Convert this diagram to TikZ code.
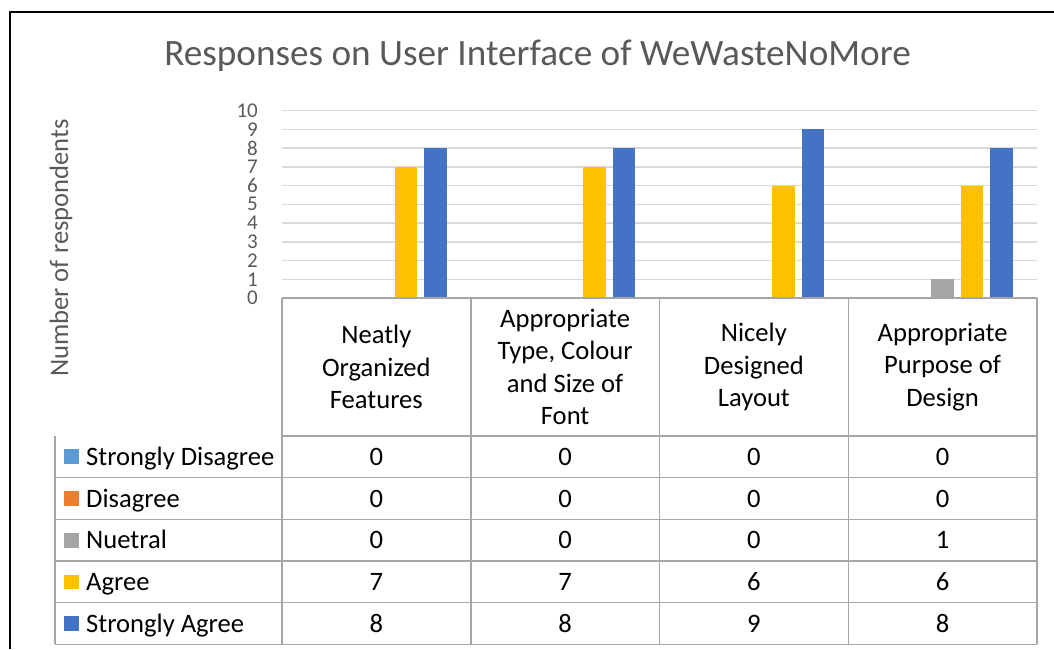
\documentclass[tikz,border=0pt]{standalone}
\usepackage{fontspec}
\setmainfont{Carlito}
\definecolor{txtgray}{HTML}{595959}
\definecolor{gridgray}{HTML}{D9D9D9}
\definecolor{tabgray}{HTML}{A6A6A6}
\definecolor{sdblue}{HTML}{5B9BD5}
\definecolor{dorange}{HTML}{ED7D31}
\definecolor{ngray}{HTML}{A5A5A5}
\definecolor{ayellow}{HTML}{FFC000}
\definecolor{sablue}{HTML}{4472C4}
\tikzset{
  ticklabel/.style={anchor=east, inner sep=0pt, text=txtgray, font=\fontsize{21}{21}\selectfont},
  tabtext/.style={inner sep=0pt, font=\fontsize{26.6}{32.5}\selectfont},
  hdrtext/.style={inner sep=0pt, align=center, font=\fontsize{26.6}{32.5}\selectfont},
  tabline/.style={tabgray, line width=1.5pt}
}
\begin{document}
\begin{tikzpicture}[x=1pt,y=-1pt]
\useasboundingbox (0,0) rectangle (1054,649);
% frame
\draw[line width=2pt] (10,649) -- (10,12) -- (1054,12);

% title and axis title
\node[anchor=base, inner sep=0pt, text=txtgray, font=\fontsize{37.2}{40}\selectfont] (title) at (537.5,65.7) {Responses on User Interface of WeWasteNoMore};
\node[rotate=90, inner sep=0pt, text=txtgray, font=\fontsize{26.6}{26.6}\selectfont] (ytitle) at (61,248) {Number of respondents};

% grid and tick labels
\foreach \v in {1,...,10}
  \draw[gridgray, line width=1.5pt] (282,298-18.75*\v) -- (1037,298-18.75*\v);
\foreach \v in {0,...,10}
  \node[ticklabel] (tick\v) at (258,298-18.75*\v) {\v};

% bars (agree, strongly agree)
\foreach \a/\s [count=\c] in {7/8, 7/8, 6/9, 6/8} {
  \fill[ayellow] (282+188.75*\c-94.375+18.2,298) rectangle ++(22.6,-18.75*\a);
  \fill[sablue] (282+188.75*\c-94.375+47.7,298) rectangle ++(22.6,-18.75*\s);
}
% neutral bar
\fill[ngray] (942.6-11.3,298) rectangle ++(22.6,-18.75);

% data table
\foreach \y in {298,436}
  \draw[tabline] (282,\y) -- (1037,\y);
\foreach \r in {1,...,5}
  \draw[tabline] (55,436+41.68*\r) -- (1037,436+41.68*\r);
\foreach \x in {282,470.75,659.5,848.25,1037}
  \draw[tabline] (\x,298) -- (\x,644.4);
\draw[tabline] (55,436) -- (55,644.4);

% category headers
\foreach \h [count=\c] in {Neatly\\Organized\\Features, {Appropriate\\Type, Colour\\and Size of\\Font}, Nicely\\Designed\\Layout, Appropriate\\Purpose of\\Design}
  \node[hdrtext] (hdr\c) at (282+188.75*\c-94.375,367) {\h};

% legend column
\foreach \lab/\col [count=\r] in {Strongly Disagree/sdblue, Disagree/dorange, Nuetral/ngray, Agree/ayellow, Strongly Agree/sablue} {
  \fill[\col] (64.3,436+41.68*\r-28.2) rectangle ++(14.7,14.7);
  \node[tabtext, anchor=base west] (leg\r) at (86,436+41.68*\r-12.14) {\lab};
}

% values
\foreach \vals [count=\r] in {{0,0,0,0},{0,0,0,0},{0,0,0,1},{7,7,6,6},{8,8,9,8}}
  \foreach \v [count=\c] in \vals
    \node[tabtext, anchor=base] (val\r\c) at (282+188.75*\c-94.375,436+41.68*\r-12.14) {\v};
\end{tikzpicture}
\end{document}
